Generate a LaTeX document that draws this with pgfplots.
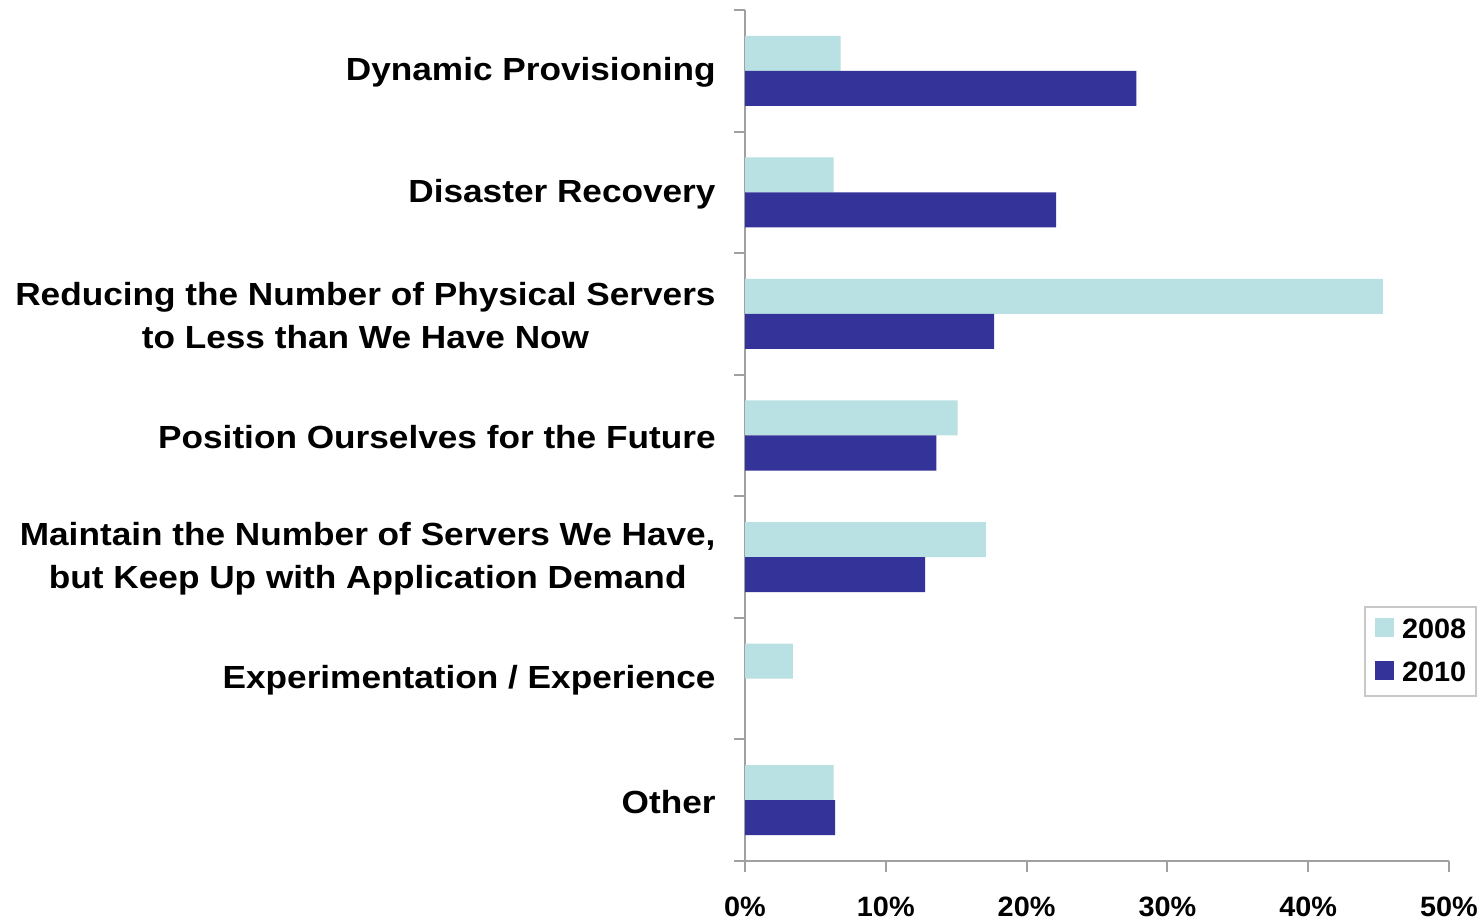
\documentclass[border=0pt]{standalone}
\usepackage{fontspec}
\setmainfont{Liberation Sans}
\newfontfamily\catfont[FakeStretch=1.1]{Liberation Sans}
\newfontfamily\tickfont[FakeStretch=1.03]{Liberation Sans}
\newfontfamily\legfont[FakeStretch=1.03]{Liberation Sans}
\usepackage{pgfplots}
\pgfplotsset{compat=1.18}
\definecolor{light}{RGB}{185,224,227}
\definecolor{dark}{RGB}{51,51,153}
\definecolor{axgray}{RGB}{160,160,160}
\definecolor{leggray}{RGB}{200,200,200}
\begin{document}
\begin{tikzpicture}
\useasboundingbox (0,0) rectangle (741pt,460pt);
\begin{axis}[
  at={(372.5pt,29.5pt)}, anchor=south west,
  scale only axis, width=352pt, height=425.5pt,
  xmin=0, xmax=50, ymin=-0.5, ymax=6.5,
  axis lines=left,
  axis line style={-, draw=axgray, line width=1pt},
  tick style={draw=axgray, line width=1pt},
  tick align=outside,
  major tick length=5.5pt,
  xtick={0,10,20,30,40,50},
  xticklabels={0\%,10\%,20\%,30\%,40\%,50\%},
  xticklabel style={font=\tickfont\bfseries\fontsize{14}{17}\selectfont, inner sep=0pt, anchor=north, yshift=-12.5pt},
  ytick={-0.5,0.5,1.5,2.5,3.5,4.5,5.5,6.5},
  yticklabels={},
  extra y ticks={0,1,2,3,4,5,6},
  extra y tick labels={Other, Experimentation / Experience, {Maintain the Number of Servers We Have,\\but Keep Up with Application Demand}, Position Ourselves for the Future, {Reducing the Number of Physical Servers\\to Less than We Have Now}, Disaster Recovery, Dynamic Provisioning},
  extra y tick style={major tick length=0pt, yticklabel style={font=\catfont\bfseries\fontsize{16}{21.5}\selectfont, align=center, anchor=east, inner sep=0pt, xshift=-14.5pt, yshift=-1pt}},
  legend style={at={(1.04,0.2996)}, anchor=north east, draw=leggray, line width=1pt, font=\legfont\bfseries\fontsize{14}{16}\selectfont, inner xsep=5pt, inner ysep=5.5pt, row sep=10pt, nodes={inner sep=0pt}, cells={anchor=west}, /tikz/every odd column/.append style={column sep=4pt}},
  legend image code/.code={\fill[#1] (0pt,-3.5pt) rectangle (9.5pt,6pt);},
  clip=false,
]
\addplot[xbar, bar width=17.5pt, bar shift=8.75pt, fill=light, draw=none] coordinates {
  (6.8,6) (6.3,5) (45.3,4) (15.1,3) (17.1,2) (3.4,1) (6.3,0)
};
\addlegendentry{2008}
\addplot[xbar, bar width=17.5pt, bar shift=-8.75pt, fill=dark, draw=none] coordinates {
  (27.8,6) (22.1,5) (17.7,4) (13.6,3) (12.8,2) (6.4,0)
};
\addlegendentry{2010}
\end{axis}
\end{tikzpicture}
\end{document}
